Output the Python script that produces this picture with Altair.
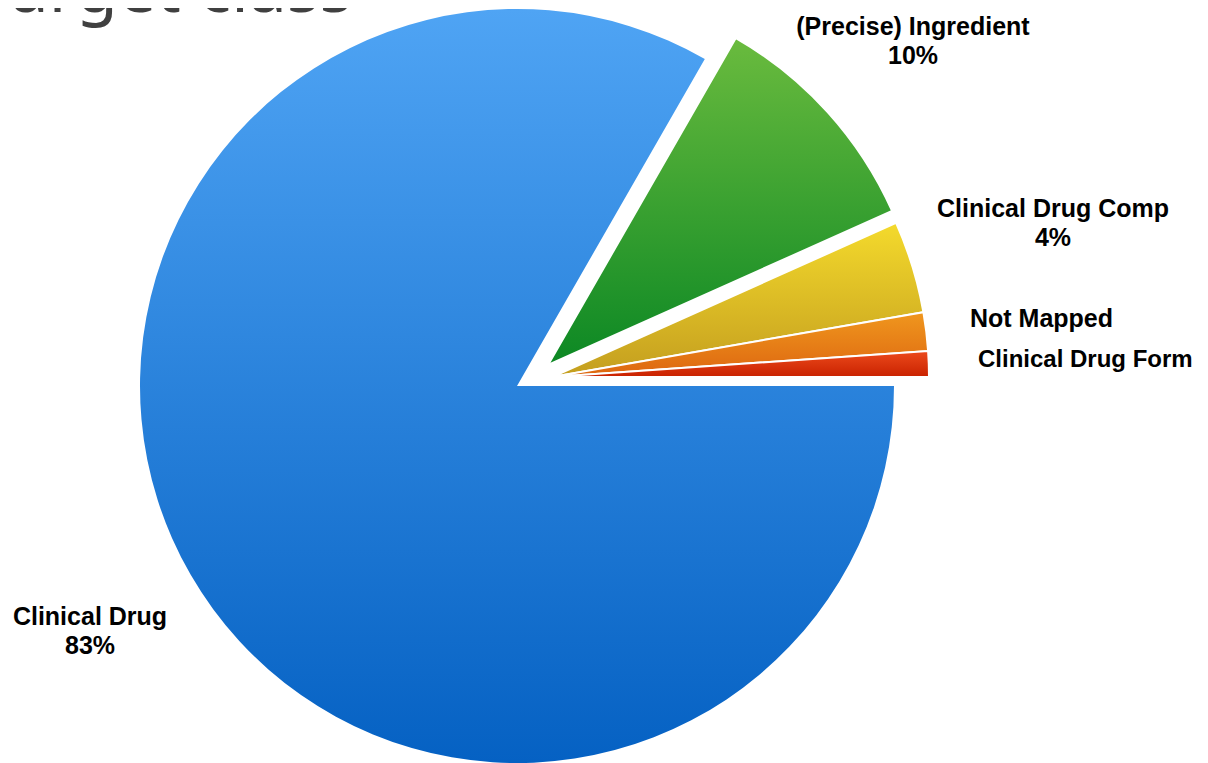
import math
import altair as alt
import pandas as pd

# ---- data ----
categories = ["Clinical Drug", "(Precise) Ingredient", "Clinical Drug Comp", "Not Mapped", "Clinical Drug Form"]
shares = [83.3, 10.0, 3.95, 1.65, 1.1]
show_pct = [True, True, True, False, False]

# ---- styling ----
top_colors = ["#4fa4f4", "#6abb3e", "#f4da2c", "#f0971e", "#ec4a1c"]
bottom_colors = ["#0561c3", "#0c8824", "#c49e1f", "#dd6610", "#c92200"]
centers = [(509, 378), (540, 357), (544, 369), (544, 369), (544, 369)]
label_pos = [(82, 617, "center"), (905, 27, "center"), (1045, 209, "center"), (962, 319, "left"), (970, 359, "left")]
label_size = [25, 25, 25, 25, 24]
RADIUS = 377

labels = [f"{c}\n{round(s)}%" if p else c for c, s, p in zip(categories, shares, show_pct)]
df = pd.DataFrame({"category": categories, "share": shares, "order": list(range(len(categories))), "label": labels})

base = alt.Chart(df).transform_window(
    cum="sum(share)", sort=[alt.SortField("order")], frame=[None, 0]
).transform_calculate(start="datum.cum - datum.share", end="datum.cum")

theta_scale = alt.Scale(domain=[0, 100], range=[math.pi / 2, math.pi / 2 + 2 * math.pi])

layers = []
for i, cat in enumerate(categories):
    grad = alt.LinearGradient(
        gradient="linear",
        stops=[alt.GradientStop(color=top_colors[i], offset=0), alt.GradientStop(color=bottom_colors[i], offset=1)],
        x1=0, x2=0, y1=0, y2=1,
    )
    cx, cy = centers[i]
    arc = base.transform_filter(alt.datum.category == cat).mark_arc(
        radius=RADIUS, fill=grad, stroke="white", strokeWidth=2 if i > 0 else 0
    ).encode(
        theta=alt.Theta("start:Q", scale=theta_scale),
        theta2="end:Q",
        x=alt.value(cx),
        y=alt.value(cy),
    )
    layers.append(arc)

for i, cat in enumerate(categories):
    lx, ly, al = label_pos[i]
    txt = base.transform_filter(alt.datum.category == cat).mark_text(
        font="Liberation Sans", fontSize=label_size[i], fontWeight="bold", color="black",
        align=al, baseline="alphabetic", lineBreak="\n", lineHeight=29,
    ).encode(text="label:N", x=alt.value(lx), y=alt.value(ly))
    layers.append(txt)

title = alt.Chart(pd.DataFrame({"t": ["Target class"]})).mark_text(
    font="Noto Sans", fontSize=68, color="#404040", align="right", baseline="alphabetic"
).encode(text="t:N", x=alt.value(344), y=alt.value(4))
layers.append(title)

chart = alt.layer(*layers).properties(
    width=1192, height=755, autosize=alt.AutoSizeParams(type="none"), padding=0
).configure_view(stroke=None)

chart.save("out.html", embed_options={"renderer": "svg", "actions": False})
